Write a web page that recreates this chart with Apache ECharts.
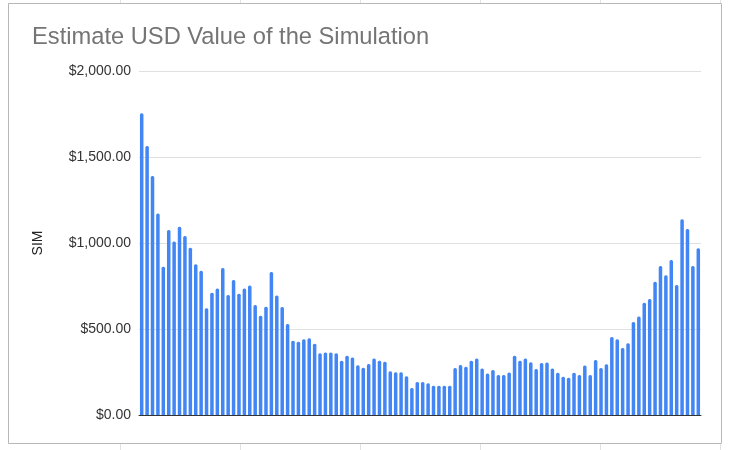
<!DOCTYPE html>
<html>
<head>
<meta charset="utf-8">
<script src="https://cdn.jsdelivr.net/npm/echarts@6/dist/echarts.min.js"></script>
<style>
html,body{margin:0;padding:0;background:#fff;}
#c{width:729px;height:450px;}
</style>
</head>
<body>
<div id="c"></div>
<script>
var titleText = "Estimate USD Value of the Simulation";
var yAxisName = "SIM";
var simValues = [
  1754, 1564, 1390, 1172, 862, 1076, 1008, 1095, 1041, 973,
  876, 839, 620, 711, 736, 855, 698, 785, 705, 736,
  753, 640, 577, 630, 831, 695, 628, 529, 432, 426,
  440, 446, 414, 359, 364, 364, 359, 316, 345, 335,
  289, 275, 296, 328, 316, 310, 255, 248, 248, 226,
  157, 192, 192, 185, 170, 170, 170, 170, 273, 290,
  281, 315, 328, 271, 242, 261, 233, 233, 247, 344,
  315, 329, 307, 268, 302, 305, 271, 246, 223, 217,
  246, 233, 288, 233, 320, 273, 295, 454, 440, 390,
  417, 541, 572, 653, 674, 775, 866, 812, 901, 756,
  1138, 1081, 867, 969
];
var categories = simValues.map(function (v, i) { return String(i + 1); });
var yTicks = [0, 500, 1000, 1500, 2000];

function fmtUSD(v) {
  var s = Math.round(v).toString().replace(/\B(?=(\d{3})+(?!\d))/g, ",");
  return "$" + s + ".00";
}

var chart = echarts.init(document.getElementById('c'), null, {renderer: 'canvas'});
chart.setOption({
  animation: false,
  backgroundColor: '#ffffff',
  graphic: [
    {type: 'line', shape: {x1: 120.5, y1: 0, x2: 120.5, y2: 450}, style: {stroke: '#e2e2e2', lineWidth: 1}, z: -10},
    {type: 'line', shape: {x1: 240.5, y1: 0, x2: 240.5, y2: 450}, style: {stroke: '#e2e2e2', lineWidth: 1}, z: -10},
    {type: 'line', shape: {x1: 360.5, y1: 0, x2: 360.5, y2: 450}, style: {stroke: '#e2e2e2', lineWidth: 1}, z: -10},
    {type: 'line', shape: {x1: 480.5, y1: 0, x2: 480.5, y2: 450}, style: {stroke: '#e2e2e2', lineWidth: 1}, z: -10},
    {type: 'line', shape: {x1: 600.5, y1: 0, x2: 600.5, y2: 450}, style: {stroke: '#e2e2e2', lineWidth: 1}, z: -10},
    {type: 'line', shape: {x1: 720.5, y1: 0, x2: 720.5, y2: 450}, style: {stroke: '#e2e2e2', lineWidth: 1}, z: -10},
    {type: 'rect', shape: {x: 8.5, y: 3.5, width: 713, height: 440}, style: {fill: '#ffffff', stroke: '#b7b7b7', lineWidth: 1}, z: -5}
  ],
  title: {
    text: titleText,
    left: 27,
    top: 20,
    textStyle: {fontFamily: 'Liberation Sans, Arial, sans-serif', fontSize: 23.7, fontWeight: 'normal', color: '#757575'}
  },
  grid: {left: 139, right: 28, top: 71, bottom: 35, containLabel: false},
  xAxis: {
    type: 'category',
    data: categories,
    boundaryGap: true,
    axisLine: {show: true, lineStyle: {color: '#333333', width: 1}},
    axisTick: {show: false},
    axisLabel: {show: false},
    splitLine: {show: false}
  },
  yAxis: {
    type: 'value',
    min: yTicks[0],
    max: yTicks[yTicks.length - 1],
    interval: 500,
    name: yAxisName,
    nameLocation: 'middle',
    nameRotate: 90,
    nameGap: 94,
    nameTextStyle: {fontFamily: 'Liberation Sans, Arial, sans-serif', fontSize: 14, color: '#222222'},
    axisLine: {show: false},
    axisTick: {show: false},
    axisLabel: {
      formatter: fmtUSD,
      margin: 8,
      fontFamily: 'Liberation Sans, Arial, sans-serif',
      fontSize: 14,
      color: '#333333'
    },
    splitLine: {show: true, lineStyle: {color: '#e0e0e0', width: 1}}
  },
  series: [{
    type: 'bar',
    data: simValues,
    barWidth: 3.5,
    itemStyle: {color: '#4285f4', borderRadius: [1.5, 1.5, 0, 0]}
  }]
});
</script>
</body>
</html>
